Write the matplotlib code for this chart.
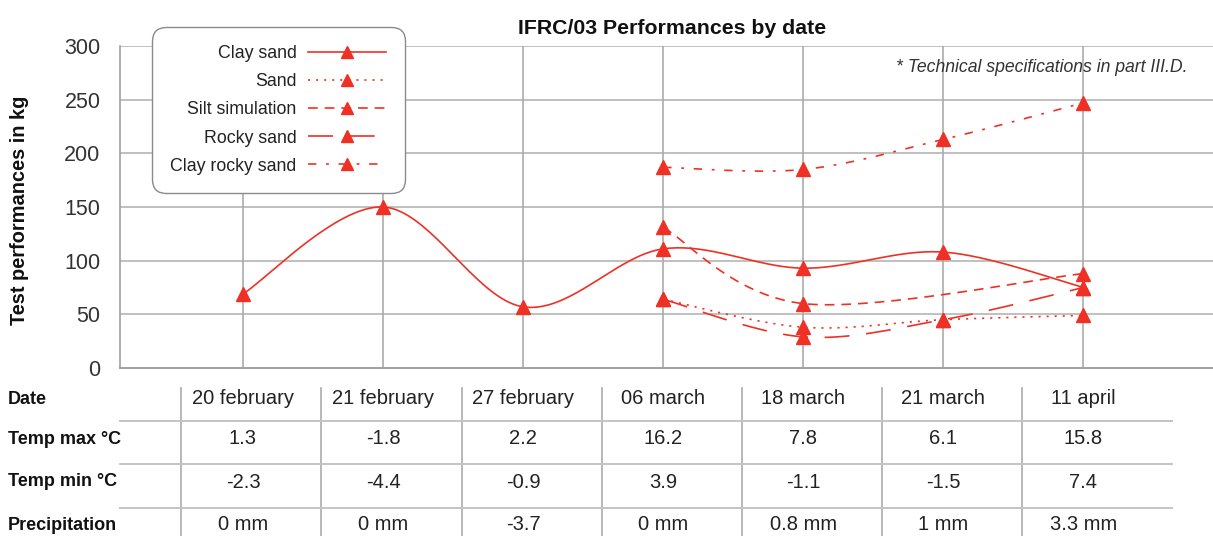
import numpy as np
import matplotlib
matplotlib.use("Agg")
import matplotlib.pyplot as plt
import matplotlib.transforms as mtransforms
from matplotlib.lines import Line2D

# =========================
# DATA
# =========================
dates = ["20 february", "21 february", "27 february", "06 march", "18 march", "21 march", "11 april"]

clay_sand = [69, 150, 57, 111, 93, 108, 75]
sand = [None, None, None, 64, 38, 45, 49]
silt_simulation = [None, None, None, 131, 60, None, 88]
rocky_sand = [None, None, None, 64, 29, 45, 75]
clay_rocky_sand = [None, None, None, 187, 185, 213, 247]

temp_max = ["1.3", "-1.8", "2.2", "16.2", "7.8", "6.1", "15.8"]
temp_min = ["-2.3", "-4.4", "-0.9", "3.9", "-1.1", "-1.5", "7.4"]
precipitation = ["0 mm", "0 mm", "-3.7", "0 mm", "0.8 mm", "1 mm", "3.3 mm"]

yticks = [0, 50, 100, 150, 200, 250, 300]

# =========================
# STYLE
# =========================
plt.rcParams["font.family"] = ["Liberation Sans", "DejaVu Sans"]
plt.rcParams["lines.scale_dashes"] = False

RED = "#ee3124"
TXT = "#222222"
W, H = 1213, 536


def smooth(xs, ys, n=40):
    # bezier smoothing like spreadsheet "smoothed line"
    P = np.column_stack([xs, ys]).astype(float)
    out = [P[0]]
    for i in range(len(P) - 1):
        p0 = P[i - 1] if i > 0 else P[i]
        p1, p2 = P[i], P[i + 1]
        p3 = P[i + 2] if i + 2 < len(P) else P[i + 1]
        c1 = p1 + (p2 - p0) / 6
        c2 = p2 - (p3 - p1) / 6
        t = np.linspace(0, 1, n)[1:, None]
        seg = ((1 - t) ** 3) * p1 + 3 * ((1 - t) ** 2) * t * c1 + 3 * (1 - t) * t ** 2 * c2 + t ** 3 * p2
        out.extend(seg)
    out = np.array(out)
    return out[:, 0], out[:, 1]


fig = plt.figure(figsize=(W / 100, H / 100), dpi=100)
ax = fig.add_axes([120 / W, 1 - 368 / H, 1 - 120 / W, (368 - 46) / H])

x = np.arange(len(dates))
ax.set_xlim(-0.878, 6.925)
ax.set_ylim(0, 300)

for v in yticks[1:]:
    ax.axhline(v, color="#c0c0c0", lw=1.4, zorder=0)
for xi in x:
    ax.axvline(xi, color="#ababab", lw=1.2, zorder=0)

for s in ["top", "right"]:
    ax.spines[s].set_visible(False)
ax.spines["left"].set_color("#a0a0a0")
ax.spines["bottom"].set_color("#a0a0a0")
ax.spines["left"].set_linewidth(1.2)
ax.spines["bottom"].set_linewidth(1.4)

ax.set_xticks([])
ax.set_yticks(yticks)
ax.tick_params(axis="y", length=0, pad=14, labelsize=15.5, labelcolor="#333333")

series = [
    ("Clay sand", clay_sand, "-"),
    ("Sand", sand, (0, (1.5, 4.3))),
    ("Silt simulation", silt_simulation, (0, (7, 5))),
    ("Rocky sand", rocky_sand, (0, (18, 12))),
    ("Clay rocky sand", clay_rocky_sand, (0, (6, 7, 2, 7))),
]

handles = []
for name, vals, ls in series:
    xs = [i for i, v in enumerate(vals) if v is not None]
    ys = [v for v in vals if v is not None]
    sx, sy = smooth(xs, ys)
    ax.plot(sx, sy, color=RED, lw=1.2, ls=ls, zorder=3)
    ax.plot(xs, ys, ls="none", marker="^", ms=10, color=RED, mec=RED, zorder=4)
    handles.append(Line2D([0], [0], color=RED, lw=1.2, ls=ls, marker="^", ms=8.5, mec=RED))

leg = ax.legend(handles, [s[0] for s in series], loc="upper left",
                bbox_to_anchor=(158 / W, 1 - 33 / H), bbox_transform=fig.transFigure,
                markerfirst=False, numpoints=1, handlelength=4.4, handletextpad=0.65,
                labelspacing=0.62, borderpad=0.7, fontsize=12.8, fancybox=True,
                framealpha=1, borderaxespad=0)
leg.get_frame().set_edgecolor("#8a8a8a")
leg.get_frame().set_linewidth(1.0)
leg.get_frame().set_boxstyle("round,pad=0.35,rounding_size=0.8")
for t in leg.get_texts():
    t.set_color(TXT)

fig.text(672 / W, 1 - 28 / H, "IFRC/03 Performances by date", ha="center", va="center",
         fontsize=15.3, fontweight="bold", color="#111111")
fig.text(20 / W, 1 - 210 / H, "Test performances in kg", rotation=90, ha="center", va="center",
         fontsize=14.4, fontweight="bold", color="#111111")
fig.text(1188 / W, 1 - 68 / H, "* Technical specifications in part III.D.", ha="right", va="center",
         fontsize=12.7, style="italic", color="#333333")

# =========================
# TABLE UNDER THE CHART
# =========================
tr = mtransforms.blended_transform_factory(ax.transData, fig.transFigure)
rows = [("Date", dates), ("Temp max °C", temp_max), ("Temp min °C", temp_min), ("Precipitation", precipitation)]
row_y = [397, 437, 480, 523]
for (label, vals), ry in zip(rows, row_y):
    fig.text(8 / W, 1 - ry / H, label, ha="left", va="center_baseline", fontsize=13,
             fontweight="bold", color="#111111")
    for xi, v in zip(x, vals):
        ax.text(xi, 1 - ry / H, v, transform=tr, ha="center", va="center_baseline",
                fontsize=14.5, color=TXT, clip_on=False)

for ly in [421, 464, 508]:
    fig.add_artist(Line2D([120 / W, 1172 / W], [1 - ly / H, 1 - ly / H],
                          color="#c4c4c4", lw=1.4))
for xi in x:
    ax.add_artist(Line2D([xi - 0.44, xi - 0.44], [1 - 388 / H, 0], transform=tr,
                         color="#ababab", lw=1.2, clip_on=False))

fig.savefig("out.png", dpi=100)
